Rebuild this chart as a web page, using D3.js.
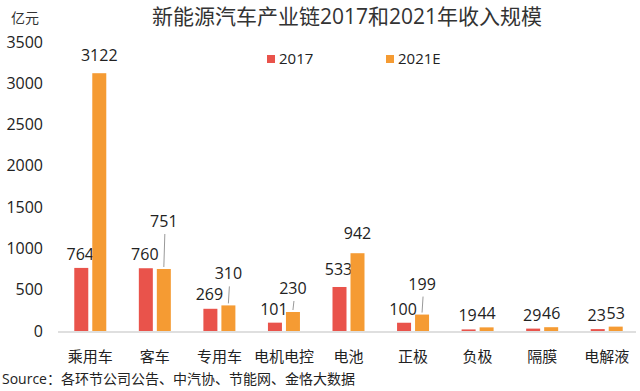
<!DOCTYPE html>
<html><head><meta charset="utf-8">
<script src="https://cdn.jsdelivr.net/npm/d3@7"></script>
<style>
html,body{margin:0;padding:0;background:#fff;}
svg{display:block;font-family:"Open Sans","Noto Sans CJK SC",sans-serif;}
</style></head>
<body>
<svg id="c" width="640" height="391"></svg>
<script>
const categories = ["乘用车","客车","专用车","电机电控","电池","正极","负极","隔膜","电解液"];
const values2017 = [764,760,269,101,533,100,19,29,23];
const values2021E = [3122,751,310,230,942,199,44,46,53];
const seriesNames = ["2017","2021E"];
const yTicks = [0,500,1000,1500,2000,2500,3000,3500];
// extra label lift (layout), leader line drawn when lifted
const lift2017 = [0,0,1,0,4,0,0,0,0];
const lift2021 = [4,34,18,10,6,17,0,0,0];
const lead2021 = [false,true,true,true,false,true,false,false,false];

const colors = ["#E9534B","#F59B33"];
const svg = d3.select("#c");
const x = d3.scaleBand().domain(categories).range([58,639]);
const y = d3.scaleLinear().domain([0,3500]).range([331,42]);
const bw = 14, gap = 4;

// title
svg.append("text").attr("x",347).attr("y",24).attr("text-anchor","middle")
  .attr("font-size",21).attr("fill","#333").text("新能源汽车产业链2017和2021年收入规模");
svg.append("text").attr("x",25).attr("y",23).attr("text-anchor","middle")
  .attr("font-size",14).attr("fill","#333").text("亿元");

// y axis
const ya = svg.append("g").attr("transform","translate(43,0)")
  .call(d3.axisLeft(y).tickValues(yTicks).tickFormat(d3.format("d")).tickSize(0).tickPadding(0));
ya.select(".domain").remove();
ya.selectAll("text").attr("font-size",16).attr("fill","#222")
  .attr("font-family","'Open Sans','Noto Sans CJK SC',sans-serif");

// baseline
svg.append("line").attr("x1",58).attr("x2",636).attr("y1",y(0)+1).attr("y2",y(0)+1)
  .attr("stroke","#d4d4d4").attr("stroke-width",1.5);

// x axis labels
const xa = svg.append("g").attr("transform",`translate(0,${y(0)})`)
  .call(d3.axisBottom(x).tickSize(0).tickPadding(20));
xa.select(".domain").remove();
xa.selectAll("text").attr("font-size",15).attr("fill","#222")
  .attr("font-family","'Noto Sans CJK SC',sans-serif");

const series = [values2017, values2021E];
series.forEach((vals, s) => {
  const g = svg.append("g");
  categories.forEach((c, i) => {
    const cx = x(c) + x.bandwidth()/2;
    const bx = s === 0 ? cx - gap/2 - bw : cx + gap/2;
    const top = y(vals[i]);
    g.append("rect").attr("x",bx).attr("y",top).attr("width",bw)
      .attr("height",y(0)-top).attr("fill",colors[s]);
    const lift = s === 0 ? lift2017[i] : lift2021[i];
    const ly = top - 8 - lift;
    g.append("text").attr("x",bx+bw/2 - (s===0?1:0)).attr("y",ly).attr("text-anchor","middle")
      .attr("font-size",16).attr("fill","#222").text(vals[i]);
    if (s === 1 && lead2021[i]) {
      g.append("line").attr("x1",bx+bw/2+1).attr("x2",bx+bw/2)
        .attr("y1",ly+7).attr("y2",top-2)
        .attr("stroke","#999").attr("stroke-width",1);
    }
  });
});

// legend
const lg = [[267,"2017"],[386,"2021E"]];
lg.forEach((d,i)=>{
  svg.append("rect").attr("x",d[0]).attr("y",55).attr("width",8).attr("height",8).attr("fill",colors[i]);
  svg.append("text").attr("x",d[0]+12).attr("y",64).attr("font-size",15).attr("fill","#222").text(seriesNames[i]);
});

// source
svg.append("text").attr("x",2).attr("y",384).attr("font-size",14).attr("fill","#222")
  .text("Source：各环节公司公告、中汽协、节能网、金恪大数据");
</script>
</body></html>
